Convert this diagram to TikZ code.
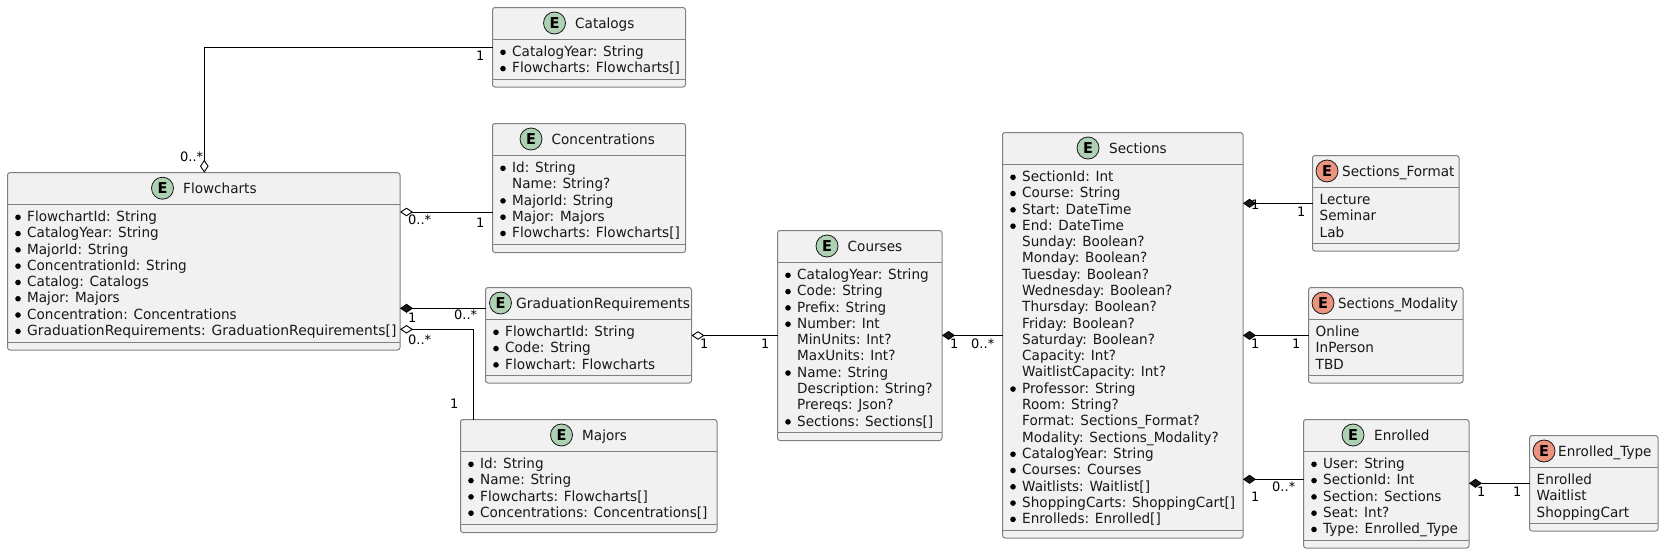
\documentclass[tikz,border=0pt]{standalone}
\usepackage{fontspec}
\setmainfont[FakeStretch=0.97]{DejaVu Sans}
\newfontfamily\labelfont{DejaVu Sans}
\newfontfamily\widefont[FakeStretch=0.99]{DejaVu Sans}
\newfontfamily\tightfont[FakeStretch=0.95]{DejaVu Sans}
\usetikzlibrary{arrows.meta,calc}
\definecolor{boxfill}{HTML}{F1F1F1}
\definecolor{boxline}{HTML}{808080}
\definecolor{entgreen}{HTML}{ADD1B2}
\definecolor{entred}{HTML}{EB937F}
\definecolor{ink}{HTML}{181818}
\tikzset{
  ent/.style={draw=boxline,fill=boxfill,line width=1pt,rounded corners=2.5pt,inner sep=0pt,outer sep=0pt},
  divider/.style={draw=boxline,line width=1pt},
  badge/.style={circle,draw=ink,line width=0.8pt,minimum size=22pt,inner sep=0pt},
  badgeletter/.style={inner sep=0pt,font=\fontsize{15}{16}\selectfont\bfseries,text=black},
  titletext/.style={anchor=base west,inner sep=0pt,font=\fontsize{14}{16}\selectfont,text=ink},
  rowtext/.style={anchor=base west,inner sep=0pt,font=\fontsize{14}{16}\selectfont,text=ink},
  dot/.style={circle,fill=black,inner sep=0pt,minimum size=5.6pt},
  conn/.style={draw=black,line width=0.9pt,line join=miter},
  mult/.style={anchor=west,inner sep=0pt,font=\labelfont\fontsize{13}{15}\selectfont,text=black},
  opend/.style={{Diamond[open,fill=white,length=13pt,width=8.5pt]}-},
  filld/.style={{Diamond[fill=ink,length=13pt,width=9pt]}-},
}
% name, x1, y1, x2, y2, badge x, title x, colour, title
\newcommand{\entbox}[9]{%
  \node[ent,minimum width={(#4)-(#2)},minimum height={(#5)-(#3)}] (#1) at ({((#2)+(#4))/2},{((#3)+(#5))/2}) {};
  \draw[divider] (#1.west |- 0,{#3+32}) -- (#1.east |- 0,{#3+32});
  \draw[divider] (#1.west |- 0,{#5-8}) -- (#1.east |- 0,{#5-8});
  \node[badge,fill=#8] (#1-badge) at (#6,{#3+15.5}) {};
  \node[badgeletter] (#1-letter) at (#1-badge) {E};
  \node[titletext] (#1-title) at (#7,{#3+20.5}) {#9};
}
% name, x1, y of header line, text offset, bullet/text rows
\newcommand{\entrows}[5]{%
  \foreach \b/\t [count=\i from 0] in {#5} {
    \pgfmathsetmacro{\ry}{#3+17+16.29*\i}
    \node[rowtext] (#1-row\i) at ({#2+#4},\ry) {\t};
    \ifnum\b=1
      \node[dot] (#1-dot\i) at ({#2+10.5},{\ry-4.2}) {};
    \fi
  }
}
\begin{document}
\begin{tikzpicture}[x=1pt,y=-1pt]
\useasboundingbox (0,0) rectangle (1664,554);

\entbox{fc}{7.5}{172.7}{400}{350}{162.5}{183}{entgreen}{Flowcharts}
\entrows{fc}{7.5}{204.5}{19.5}{1/{FlowchartId: String},1/{CatalogYear: String},1/{MajorId: String},1/{ConcentrationId: String},1/{Catalog: Catalogs},1/{Major: Majors},1/{Concentration: Concentrations},1/{\widefont GraduationRequirements: GraduationRequirements[]}}

\entbox{cat}{492.5}{7.5}{685.5}{87}{554.5}{575}{entgreen}{Catalogs}
\entrows{cat}{492.5}{39.5}{19.5}{1/{CatalogYear: String},1/{Flowcharts: Flowcharts[]}}

\entbox{con}{492.5}{123.5}{685.5}{252.5}{531}{551.5}{entgreen}{Concentrations}
\entrows{con}{492.5}{155.5}{19.5}{1/{Id: String},0/{Name: String?},1/{MajorId: String},1/{Major: Majors},1/{Flowcharts: Flowcharts[]}}

\entbox{grad}{485.5}{287.5}{691.5}{383}{500.5}{516}{entgreen}{\widefont GraduationRequirements}
\entrows{grad}{485.5}{319.5}{19.5}{1/{FlowchartId: String},1/{Code: String},1/{Flowchart: Flowcharts}}

\entbox{maj}{460.5}{419.5}{717}{532.5}{561.5}{582}{entgreen}{Majors}
\entrows{maj}{460.5}{451.5}{19.5}{1/{Id: String},1/{Name: String},1/{Flowcharts: Flowcharts[]},1/{Concentrations: Concentrations[]}}

\entbox{crs}{777.5}{230.5}{942}{440.5}{827}{847.5}{entgreen}{Courses}
\entrows{crs}{777.5}{262.5}{19.5}{1/{CatalogYear: String},1/{Code: String},1/{Prefix: String},1/{Number: Int},0/{MinUnits: Int?},0/{MaxUnits: Int?},1/{Name: String},0/{Description: String?},0/{Prereqs: Json?},1/{Sections: Sections[]}}

\entbox{sec}{1002.5}{132.5}{1243}{538}{1088}{1109}{entgreen}{Sections}
\entrows{sec}{1002.5}{164.5}{19.5}{1/{SectionId: Int},1/{Course: String},1/{Start: DateTime},1/{End: DateTime},0/{Sunday: Boolean?},0/{Monday: Boolean?},0/{Tuesday: Boolean?},0/{Wednesday: Boolean?},0/{Thursday: Boolean?},0/{Friday: Boolean?},0/{Saturday: Boolean?},0/{Capacity: Int?},0/{WaitlistCapacity: Int?},1/{Professor: String},0/{Room: String?},0/{Format: Sections\_Format?},0/{Modality: Sections\_Modality?},1/{CatalogYear: String},1/{Courses: Courses},1/{Waitlists: Waitlist[]},1/{ShoppingCarts: ShoppingCart[]},1/{Enrolleds: Enrolled[]}}

\entbox{sfm}{1312.5}{155.5}{1459}{251}{1327}{1342}{entred}{Sections\_Format}
\entrows{sfm}{1312.5}{187.5}{7}{0/{Lecture},0/{Seminar},0/{Lab}}

\entbox{smd}{1308.5}{287.5}{1463}{383}{1323}{1338}{entred}{\tightfont Sections\_Modality}
\entrows{smd}{1308.5}{319.5}{7}{0/{Online},0/{InPerson},0/{TBD}}

\entbox{enr}{1303.5}{419.5}{1469}{548}{1353}{1374}{entgreen}{Enrolled}
\entrows{enr}{1303.5}{451.5}{19.5}{1/{User: String},1/{SectionId: Int},1/{Section: Sections},1/{Seat: Int?},1/{Type: Enrolled\_Type}}

\entbox{ety}{1529.5}{435.5}{1658}{531}{1544}{1558}{entred}{Enrolled\_Type}
\entrows{ety}{1529.5}{467.5}{7}{0/{Enrolled},0/{Waitlist},0/{ShoppingCart}}

% connectors
\draw[conn,opend] (204.3,0 |- fc.north) -- (204.3,47.3) -- (cat.west |- 0,47.3);
\draw[conn,opend] (fc.east |- 0,212) -- (con.west |- 0,212);
\draw[conn,filld] (fc.east |- 0,308.3) -- (grad.west |- 0,308.3);
\draw[conn,opend] (fc.east |- 0,329.3) -- (473.3,329.3) -- (473.3,0 |- maj.north);
\draw[conn,opend] (grad.east |- 0,335.5) -- (crs.west |- 0,335.5);
\draw[conn,filld] (crs.east |- 0,335.4) -- (sec.west |- 0,335.4);
\draw[conn,filld] (sec.east |- 0,203.3) -- (sfm.west |- 0,203.3);
\draw[conn,filld] (sec.east |- 0,335.4) -- (smd.west |- 0,335.4);
\draw[conn,filld] (sec.east |- 0,479.3) -- (enr.west |- 0,479.3);
\draw[conn,filld] (enr.east |- 0,483.3) -- (ety.west |- 0,483.3);

% multiplicities
\node[mult] (m1) at (180,156.5) {0..*};
\node[mult] (m2) at (476,56) {1};
\node[mult] (m3) at (408,219.5) {0..*};
\node[mult] (m4) at (476,223) {1};
\node[mult] (m5) at (408,317.5) {1};
\node[mult] (m6) at (454,314.5) {0..*};
\node[mult] (m7) at (408,339.5) {0..*};
\node[mult] (m8) at (450,404) {1};
\node[mult] (m9) at (700,344) {1};
\node[mult] (m10) at (761,344) {1};
\node[mult] (m11) at (950,344) {1};
\node[mult] (m12) at (971,344) {0..*};
\node[mult] (m13) at (1251,204.5) {1};
\node[mult] (m14) at (1297,212) {1};
\node[mult] (m15) at (1251,344) {1};
\node[mult] (m16) at (1292,344) {1};
\node[mult] (m17) at (1251,497) {1};
\node[mult] (m18) at (1272,487) {0..*};
\node[mult] (m19) at (1477,492) {1};
\node[mult] (m20) at (1513,492) {1};
\end{tikzpicture}
\end{document}
